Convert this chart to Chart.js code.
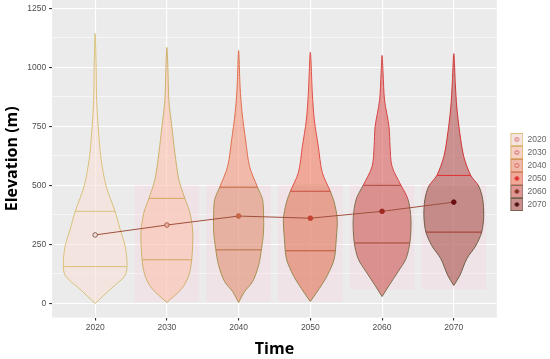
<!DOCTYPE html>
<html>
<head>
<meta charset="utf-8">
<script src="https://cdn.jsdelivr.net/npm/chart.js@4.4.0/dist/chart.umd.min.js"></script>
<style>
  html, body { margin: 0; padding: 0; background: #fff; }
</style>
</head>
<body>
<canvas id="violinChart" width="550" height="359"></canvas>
<script>
// category labels and summary values
const years = ['2020', '2030', '2040', '2050', '2060', '2070'];
const yTicks = [0, 125, 250, 375, 500, 625, 750, 875, 1000, 1125, 1250];
const means = [290, 332, 370, 361, 390, 429];
const q25 = [156, 185, 227, 223, 256, 302];
const q75 = [390, 445, 492, 475, 500, 542];
const bandLow = [null, 8, 8, 8, 60, 60];
const bandHigh = [null, 500, 500, 500, 500, 500];

// violin outlines: elevation levels and (relative) density at each level
const elev2020 = [0, 63, 118, 168, 245, 315, 390, 497, 610, 722, 860, 1000, 1143];
const dens2020 = [0, 16, 30, 32, 30, 25, 20, 11, 6, 3.5, 1.5, 1, 0];
const elev2030 = [4, 63, 118, 189, 302, 386, 445, 525, 638, 748, 861, 1000, 1084];
const dens2030 = [0, 15, 22, 25, 26, 23, 18, 12, 8, 5, 2, 1, 0];
const elev2040 = [4, 50, 92, 160, 231, 302, 386, 441, 492, 580, 693, 806, 916, 1071];
const dens2040 = [0, 6, 14, 20, 23, 25, 25, 24, 19, 11, 7, 3.5, 1.5, 0];
const elev2050 = [8, 63, 118, 189, 273, 357, 428, 475, 554, 665, 777, 890, 1064];
const dens2050 = [0, 9, 17, 24, 26, 27, 24, 20, 12, 8, 4, 2, 0];
const elev2060 = [29, 76, 134, 189, 260, 357, 441, 500, 580, 665, 748, 861, 975, 1050];
const dens2060 = [0, 7, 16, 24, 28, 29, 26, 19, 10, 8, 7, 2.5, 1, 0];
const elev2070 = [76, 118, 189, 244, 302, 370, 441, 497, 542, 622, 722, 832, 932, 1058];
const dens2070 = [0, 6, 13, 22, 28, 30, 29, 25, 17, 10, 6, 3, 1.5, 0];

const elevs = [elev2020, elev2030, elev2040, elev2050, elev2060, elev2070];
const dens = [dens2020, dens2030, dens2040, dens2050, dens2060, dens2070];

// styling
const DENS_SCALE = 1 / 72;
const BAND_HALF = 0.45;
const fillTop = ['rgba(250,223,217,0.6)', 'rgba(253,193,173,0.6)', 'rgba(243,152,127,0.6)',
                 'rgba(243,123,97,0.6)', 'rgba(218,93,93,0.6)', 'rgba(180,84,84,0.6)'];
const lineTop = ['#d9c27a', '#cdb26c', '#e0704e', '#e05048', '#d84545', '#d03535'];
const lineLow = ['#d9c27a', '#c4ad68', '#a89250', '#958650', '#807050', '#6e5e46'];
const qColTop = ['#d9c27a', '#d0a860', '#c86a40', '#c85040', '#b84840', '#e03030'];
const qColLow = ['#d9c27a', '#d0a860', '#b87040', '#b85838', '#a04838', '#a03828'];
const meanFill = ['#f2e4e0', '#eab0a0', '#c86a48', '#c84030', '#a02820', '#6a1010'];
const meanBorder = ['#8a6050', '#b06050', '#c06040', '#c04030', '#a02820', '#6a1010'];
const legendBorder = ['#e0c080', '#d8b070', '#d89060', '#d08070', '#8a7058', '#7a6050'];
const legendDot = ['#d06060', '#d05050', '#d84838', '#e03030', '#803020', '#501010'];

function widthAt(i, y) {
  const e = elevs[i], d = dens[i];
  for (let k = 1; k < e.length; k++) {
    if (y <= e[k]) {
      const t = (y - e[k - 1]) / (e[k] - e[k - 1]);
      return (d[k - 1] + t * (d[k] - d[k - 1])) * DENS_SCALE;
    }
  }
  return 0;
}

function violinPoints(i) {
  const e = elevs[i], d = dens[i];
  const pts = [{x: i, y: e[0]}];
  for (let k = 1; k < e.length - 1; k++) pts.push({x: i - d[k] * DENS_SCALE, y: e[k]});
  pts.push({x: i, y: e[e.length - 1]});
  for (let k = e.length - 2; k >= 1; k--) pts.push({x: i + d[k] * DENS_SCALE, y: e[k]});
  pts.push({x: i, y: e[0]});
  return pts;
}

// lower part of a violin, below the cut level
function lowerPoints(i, cut) {
  const e = elevs[i], d = dens[i];
  const wc = widthAt(i, cut);
  const pts = [{x: i, y: e[0]}];
  for (let k = 1; k < e.length && e[k] < cut; k++) pts.push({x: i - d[k] * DENS_SCALE, y: e[k]});
  pts.push({x: i - wc, y: cut});
  pts.push({x: i + wc, y: cut});
  for (let k = e.length - 1; k >= 1; k--) {
    if (e[k] < cut) pts.push({x: i + d[k] * DENS_SCALE, y: e[k]});
  }
  pts.push({x: i, y: e[0]});
  return pts;
}

function legendKey(i) {
  const c = document.createElement('canvas');
  c.width = 22; c.height = 13;
  const g = c.getContext('2d');
  g.fillStyle = '#ebebeb'; g.fillRect(9, 0, 13, 13);
  g.fillStyle = fillTop[i]; g.fillRect(9, 0, 13, 13);
  g.strokeStyle = legendBorder[i]; g.lineWidth = 1; g.strokeRect(9.5, 0.5, 12, 12);
  g.beginPath(); g.arc(15.5, 6.5, 1.8, 0, 2 * Math.PI);
  g.fillStyle = i < 3 ? '#f6e0e0' : legendDot[i]; g.fill();
  g.strokeStyle = legendDot[i]; g.lineWidth = 1; g.stroke();
  return c;
}

const datasets = [];

// mean line with points
datasets.push({
  type: 'scatter',
  data: means.map((m, i) => ({x: i, y: m})),
  showLine: true,
  borderColor: '#a0503c',
  borderWidth: 1,
  pointRadius: 2.3,
  pointBorderWidth: 1,
  pointBackgroundColor: meanFill,
  pointBorderColor: meanBorder,
  order: 0
});

years.forEach((yr, i) => {
  // quartile lines
  const w1 = widthAt(i, q25[i]), w3 = widthAt(i, q75[i]);
  datasets.push({
    type: 'scatter',
    data: [{x: i - w1, y: q25[i]}, {x: i + w1, y: q25[i]}, {x: i, y: null},
           {x: i - w3, y: q75[i]}, {x: i + w3, y: q75[i]}],
    showLine: true,
    spanGaps: false,
    pointRadius: 0,
    borderWidth: 1,
    borderColor: qColTop[i],
    segment: {borderColor: ctx => ctx.p0.parsed.y < 400 ? qColLow[i] : qColTop[i]},
    order: 1
  });

  // violin outline, olive below the shaded level
  const cut = i >= 2 ? bandHigh[i] : -1;
  datasets.push({
    type: 'scatter',
    data: violinPoints(i),
    showLine: true,
    fill: false,
    borderColor: lineTop[i],
    borderWidth: 1,
    pointRadius: 0,
    tension: 0.3,
    segment: {
      borderColor: ctx => (ctx.p0.parsed.y < cut && ctx.p1.parsed.y < cut + 1) ? lineLow[i] : lineTop[i]
    },
    order: 2
  });

  // darker tint on the lower part of later violins
  if (i >= 2) {
    datasets.push({
      type: 'scatter',
      data: lowerPoints(i, bandHigh[i]),
      showLine: true,
      fill: 'shape',
      backgroundColor: 'rgba(100,110,50,0.07)',
      borderWidth: 0,
      pointRadius: 0,
      tension: 0.3,
      order: 3
    });
  }

  // violin body
  datasets.push({
    type: 'scatter',
    label: yr,
    data: violinPoints(i),
    showLine: true,
    fill: 'shape',
    backgroundColor: fillTop[i],
    borderWidth: 0,
    pointRadius: 0,
    tension: 0.3,
    order: 4
  });

  // faint pink band behind the violins
  if (bandLow[i] !== null) {
    datasets.push({
      type: 'scatter',
      data: [{x: i - BAND_HALF, y: bandLow[i]}, {x: i - BAND_HALF, y: bandHigh[i]},
             {x: i + BAND_HALF, y: bandHigh[i]}, {x: i + BAND_HALF, y: bandLow[i]}],
      showLine: true,
      fill: 'shape',
      backgroundColor: 'rgba(255,205,225,0.26)',
      borderWidth: 0,
      pointRadius: 0,
      order: 5
    });
  }
});

const panelBg = {
  id: 'panelBg',
  beforeDraw(chart) {
    const a = chart.chartArea, ctx = chart.ctx;
    ctx.save();
    ctx.fillStyle = '#ebebeb';
    ctx.fillRect(a.left, a.top, a.right - a.left, a.bottom - a.top);
    ctx.restore();
  }
};

const tickFont = {family: '"Liberation Sans", Arial, sans-serif', size: 8.5};
const titleFont = {family: '"Open Sans", "Noto Sans", sans-serif', size: 16, weight: 'bold'};

new Chart(document.getElementById('violinChart'), {
  type: 'scatter',
  data: {datasets: datasets},
  plugins: [panelBg],
  options: {
    responsive: false,
    animation: false,
    layout: {autoPadding: false, padding: {left: 3, right: -6.5, top: 0, bottom: 0}},
    plugins: {
      tooltip: {enabled: false},
      legend: {
        position: 'right',
        align: 'start',
        // empty title only pushes the keys down to where they sit in the original
        title: {display: true, text: ' ', font: tickFont, padding: {top: 120.5, bottom: 0}},
        labels: {
          usePointStyle: true,
          pointStyleWidth: 22,
          boxHeight: 13,
          padding: 4.5,
          color: '#1a1a1a',
          font: tickFont,
          generateLabels: () => years.map((yr, i) => ({
            text: yr,
            pointStyle: legendKey(i),
            fillStyle: fillTop[i],
            strokeStyle: legendBorder[i],
            lineWidth: 0,
            hidden: false,
            datasetIndex: i
          }))
        }
      }
    },
    scales: {
      x: {
        type: 'linear',
        min: -0.6,
        max: 5.6,
        afterBuildTicks: s => { s.ticks = years.map((_, i) => ({value: i})); },
        afterFit: s => { s.paddingLeft = 0; s.paddingRight = 0; },
        border: {display: false},
        grid: {color: '#ffffff', lineWidth: 1.1, tickColor: '#333333', tickLength: 3},
        ticks: {
          autoSkip: false,
          maxRotation: 0,
          padding: 2,
          color: '#4d4d4d',
          font: tickFont,
          callback: v => years[v]
        },
        title: {display: true, text: 'Time', color: '#000', font: titleFont, padding: {top: 5, bottom: 0}}
      },
      y: {
        type: 'linear',
        min: -60,
        max: 1285,
        afterBuildTicks: s => { s.ticks = yTicks.map(v => ({value: v})); },
        afterFit: s => { s.paddingTop = 0; s.paddingBottom = 0; },
        border: {display: false},
        grid: {
          color: '#ffffff',
          lineWidth: ctx => (ctx.tick && ctx.tick.value % 250 === 0) ? 1.1 : 0.55,
          tickColor: ctx => (ctx.tick && ctx.tick.value % 250 === 0) ? '#333333' : 'rgba(0,0,0,0)',
          tickLength: 3
        },
        ticks: {
          autoSkip: false,
          padding: 3,
          color: '#4d4d4d',
          font: tickFont,
          callback: v => (v % 250 === 0 ? v : '')
        },
        title: {display: true, text: 'Elevation (m)', color: '#000', font: titleFont, padding: {top: 0, bottom: 2}}
      }
    }
  }
});
</script>
</body>
</html>
